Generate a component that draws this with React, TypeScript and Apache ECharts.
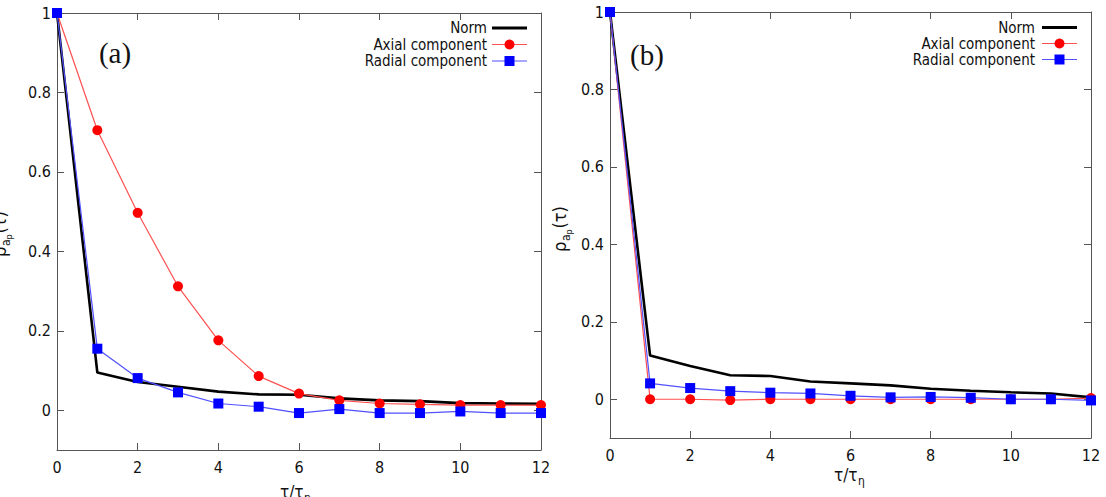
import React, { useEffect, useRef } from "react";
import * as echarts from "echarts";

const xs = [0, 1, 2, 3, 4, 5, 6, 7, 8, 9, 10, 11, 12];

const normA = [1, 0.095, 0.071, 0.059, 0.047, 0.04, 0.039, 0.03, 0.025, 0.023, 0.018, 0.017, 0.016];
const axialA = [1, 0.705, 0.497, 0.312, 0.176, 0.086, 0.042, 0.025, 0.017, 0.015, 0.013, 0.013, 0.013];
const radialA = [1, 0.155, 0.081, 0.045, 0.017, 0.009, -0.007, 0.003, -0.007, -0.007, -0.003, -0.007, -0.007];

const normB = [1, 0.113, 0.086, 0.062, 0.06, 0.046, 0.041, 0.036, 0.027, 0.022, 0.018, 0.015, 0.005];
const axialB = [1, 0, 0, -0.002, 0, 0, 0, 0, 0, 0, 0, 0, 0.003];
const radialB = [1, 0.041, 0.029, 0.021, 0.017, 0.015, 0.009, 0.005, 0.006, 0.004, 0, 0, -0.003];

const yTicks = [0, 0.2, 0.4, 0.6, 0.8, 1];
const legendNames = ["Norm", "Axial component", "Radial component"];
const panelLabels = ["(a)", "(b)"];

const FONT = "'DejaVu Sans Condensed', 'DejaVu Sans', sans-serif";
const AXIS_COLOR = "#555";
const RED = "#ff0000";
const RED_LINE = "#ff5050";
const BLUE = "#0000ff";
const BLUE_LINE = "#5050ff";

function pairs(v: number[]) {
  return xs.map((x, i) => [x, v[i]]);
}

function xAxisDef(grid: number, pos: "bottom" | "top") {
  return {
    type: "value",
    gridIndex: grid,
    position: pos,
    min: 0,
    max: 12,
    interval: 2,
    axisLine: { show: true, onZero: false, lineStyle: { color: AXIS_COLOR, width: 1 } },
    axisTick: { show: true, inside: true, length: 7, lineStyle: { color: AXIS_COLOR } },
    splitLine: { show: false },
    axisLabel: {
      show: pos === "bottom",
      margin: 9,
      fontSize: 16,
      fontFamily: FONT,
      color: "#111",
    },
  };
}

function yAxisDef(grid: number, pos: "left" | "right") {
  return {
    type: "value",
    gridIndex: grid,
    position: pos,
    min: -0.1,
    max: 1,
    axisLine: { show: true, onZero: false, lineStyle: { color: AXIS_COLOR, width: 1 } },
    axisTick: {
      show: true,
      inside: true,
      length: 7,
      customValues: yTicks,
      lineStyle: { color: AXIS_COLOR },
    },
    splitLine: { show: false },
    axisLabel: {
      show: pos === "left",
      customValues: yTicks,
      margin: 6,
      fontSize: 16,
      fontFamily: FONT,
      color: "#111",
      formatter: (v: number) => (v === 0 ? "0" : v === 1 ? "1" : v.toFixed(1)),
    },
  };
}

function seriesSet(grid: number, norm: number[], axial: number[], radial: number[]) {
  const xi = grid * 2;
  const yi = grid * 2;
  return [
    {
      type: "line",
      name: legendNames[0],
      xAxisIndex: xi,
      yAxisIndex: yi,
      data: pairs(norm),
      symbol: "none",
      clip: false,
      lineStyle: { color: "#000", width: 2.6 },
      z: 2,
    },
    {
      type: "line",
      name: legendNames[1],
      xAxisIndex: xi,
      yAxisIndex: yi,
      data: pairs(axial),
      symbol: "circle",
      symbolSize: 10,
      clip: false,
      itemStyle: { color: RED },
      lineStyle: { color: RED_LINE, width: 1.2 },
      z: 3,
    },
    {
      type: "line",
      name: legendNames[2],
      xAxisIndex: xi,
      yAxisIndex: yi,
      data: pairs(radial),
      symbol: "rect",
      symbolSize: 10,
      clip: false,
      itemStyle: { color: BLUE },
      lineStyle: { color: BLUE_LINE, width: 1.2 },
      z: 4,
    },
  ];
}

function legendGraphic(textEnd: number, s0: number, s1: number, rows: number[]) {
  const mid = (s0 + s1) / 2;
  const els: any[] = [];
  legendNames.forEach((n, i) => {
    els.push({
      type: "text",
      x: textEnd,
      y: rows[i],
      style: {
        text: n,
        fontSize: 15,
        lineHeight: 14,
        fontFamily: FONT,
        fill: "#111",
        align: "right",
        verticalAlign: "middle",
      },
    });
  });
  els.push({ type: "line", shape: { x1: s0, y1: rows[0], x2: s1, y2: rows[0] }, style: { stroke: "#000", lineWidth: 3 } });
  els.push({ type: "line", shape: { x1: s0, y1: rows[1], x2: s1, y2: rows[1] }, style: { stroke: RED_LINE, lineWidth: 1.2 } });
  els.push({ type: "circle", shape: { cx: mid, cy: rows[1], r: 5 }, style: { fill: RED } });
  els.push({ type: "line", shape: { x1: s0, y1: rows[2], x2: s1, y2: rows[2] }, style: { stroke: BLUE_LINE, lineWidth: 1.2 } });
  els.push({ type: "rect", shape: { x: mid - 5, y: rows[2] - 5, width: 10, height: 10 }, style: { fill: BLUE } });
  return els;
}

function txt(text: string, x: number, y: number, size: number) {
  return {
    type: "text",
    x,
    y,
    style: { text, fontSize: size, fontFamily: FONT, fill: "#111", verticalAlign: "middle" },
  };
}

function yTitle(x: number, y: number) {
  return {
    type: "group",
    x,
    y,
    rotation: Math.PI / 2,
    children: [txt("ρ", 0, 0, 18), txt("a", 11, 7, 12), txt("p", 17.5, 10, 9), txt("(τ)", 23.5, 0, 18)],
  };
}

function xTitle(cx: number, y: number) {
  return {
    type: "group",
    x: cx - 16,
    y,
    children: [txt("τ/τ", 0, 0, 17), txt("η", 24, 6, 12)],
  };
}

export default function App() {
  const ref = useRef<HTMLDivElement>(null);
  useEffect(() => {
    if (!ref.current) return;
    const chart = echarts.init(ref.current, null, { renderer: "svg" });
    chart.setOption({
      animation: false,
      backgroundColor: "#fff",
      grid: [
        { left: 57, top: 13, width: 484, height: 437 },
        { left: 610, top: 12, width: 481, height: 426 },
      ],
      xAxis: [xAxisDef(0, "bottom"), xAxisDef(0, "top"), xAxisDef(1, "bottom"), xAxisDef(1, "top")],
      yAxis: [yAxisDef(0, "left"), yAxisDef(0, "right"), yAxisDef(1, "left"), yAxisDef(1, "right")],
      series: [...seriesSet(0, normA, axialA, radialA), ...seriesSet(1, normB, axialB, radialB)],
      graphic: [
        ...legendGraphic(487, 492, 527, [28, 44.5, 61]),
        ...legendGraphic(1035, 1042, 1077, [27.5, 43.5, 59.5]),
        {
          type: "text",
          x: 115,
          y: 53,
          style: { text: panelLabels[0], fontSize: 29, fontFamily: "'Liberation Serif', serif", fill: "#111", align: "center", verticalAlign: "middle" },
        },
        {
          type: "text",
          x: 647,
          y: 55,
          style: { text: panelLabels[1], fontSize: 29, fontFamily: "'Liberation Serif', serif", fill: "#111", align: "center", verticalAlign: "middle" },
        },
        yTitle(-1, 257),
        yTitle(559, 252),
        xTitle(296, 492),
        xTitle(850, 475),
      ],
    });
    return () => chart.dispose();
  }, []);
  return (
    <div
      ref={ref}
      style={{ position: "absolute", left: 0, top: 0, width: 1106, height: 497, background: "#fff" }}
    />
  );
}
